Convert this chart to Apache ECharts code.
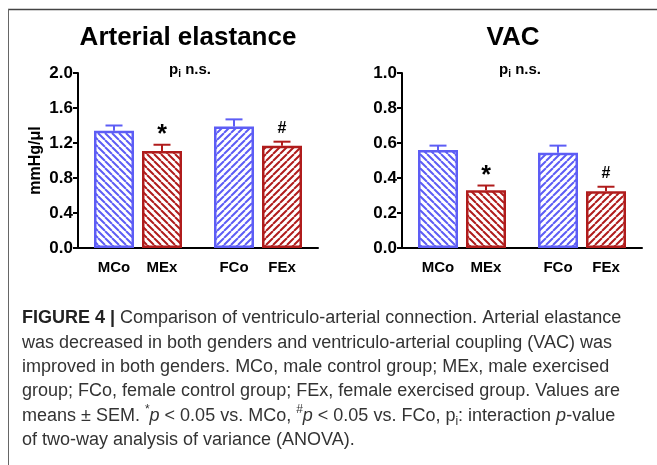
<!DOCTYPE html>
<html><head><meta charset="utf-8">
<script src="https://cdn.jsdelivr.net/npm/echarts@6/dist/echarts.min.js"></script>
<style>html,body{margin:0;padding:0;background:#fff}#c{width:657px;height:465px}</style>
</head><body><div id="c"></div>
<script>
// ---- data ----
const groups = ['MCo', 'MEx', 'FCo', 'FEx'];
const eaMean = [1.34, 1.11, 1.39, 1.17];
const eaSem = [0.06, 0.07, 0.08, 0.045];
const vacMean = [0.56, 0.33, 0.545, 0.325];
const vacSem = [0.025, 0.027, 0.04, 0.025];
const marks = ['', '*', '', '#'];
const eaTicks = ['0.0', '0.4', '0.8', '1.2', '1.6', '2.0'];
const vacTicks = ['0.0', '0.2', '0.4', '0.6', '0.8', '1.0'];
const titles = ['Arterial elastance', 'VAC'];
const yName = 'mmHg/\u03bcl';

// ---- layout / style ----
const BLUE = '#5d5df5', RED = '#b01c1c';
const FONT = 'Liberation Sans, Arial, sans-serif';
const slotOf = [1, 3, 6, 8];
const NSLOT = 10;
const colorOf = i => (i % 2 === 0 ? BLUE : RED);
const dirOf = i => (i < 2 ? 'back' : 'fwd');

function hatch(color, dir) {
  const s = 7, c = document.createElement('canvas');
  c.width = s; c.height = s;
  const g = c.getContext('2d');
  g.fillStyle = '#fff'; g.fillRect(0, 0, s, s);
  g.strokeStyle = color; g.lineWidth = 2; g.beginPath();
  for (let k = -1; k <= 1; k++) {
    if (dir === 'back') { g.moveTo(k * s, 0); g.lineTo(k * s + s, s); }
    else { g.moveTo(k * s, s); g.lineTo(k * s + s, 0); }
  }
  g.stroke();
  return { image: c, repeat: 'repeat' };
}

const slotLabels = Array.from({ length: NSLOT }, () => '');
groups.forEach((g, i) => { slotLabels[slotOf[i]] = g; });

function barData(mean) {
  const d = Array.from({ length: NSLOT }, () => null);
  mean.forEach((v, i) => {
    d[slotOf[i]] = {
      value: v,
      itemStyle: { color: hatch(colorOf(i), dirOf(i)), borderColor: colorOf(i), borderWidth: 2.5 }
    };
  });
  return d;
}

function errSeries(idx, mean, sem) {
  return {
    type: 'custom', xAxisIndex: idx, yAxisIndex: idx, z: 5,
    data: mean.map((m, i) => [slotOf[i], m, sem[i], i]),
    renderItem(params, api) {
      const i = api.value(3);
      const col = colorOf(i);
      const base = api.coord([api.value(0), api.value(1)]);
      const top = api.coord([api.value(0), api.value(1) + api.value(2)]);
      const children = [
        { type: 'line', shape: { x1: base[0], y1: base[1], x2: top[0], y2: top[1] }, style: { stroke: col, lineWidth: 2 } },
        { type: 'line', shape: { x1: top[0] - 8.5, y1: top[1], x2: top[0] + 8.5, y2: top[1] }, style: { stroke: col, lineWidth: 2 } }
      ];
      const m = marks[i];
      if (m) {
        const star = m === '*';
        children.push({
          type: 'text',
          style: {
            text: m, x: top[0], y: top[1] + (star ? 3 : -5),
            align: 'center', verticalAlign: 'bottom',
            font: 'bold ' + (star ? 25 : 16) + 'px ' + FONT, fill: '#000'
          }
        });
      }
      return { type: 'group', children };
    }
  };
}

function xAx(idx) {
  return {
    type: 'category', gridIndex: idx, data: slotLabels,
    axisLine: { lineStyle: { color: '#000', width: 2 } },
    axisTick: { show: false },
    axisLabel: { interval: 0, color: '#000', fontWeight: 'bold', fontSize: 15, fontFamily: FONT, margin: 12 }
  };
}
function yAx(idx, ticks, name) {
  const max = parseFloat(ticks[ticks.length - 1]);
  const step = parseFloat(ticks[1]) - parseFloat(ticks[0]);
  return {
    type: 'value', gridIndex: idx, min: 0, max: max, interval: step,
    name: name || '', nameLocation: 'middle', nameGap: 34, nameRotate: 90,
    nameTextStyle: { color: '#000', fontWeight: 'bold', fontSize: 16, fontFamily: FONT },
    axisLine: { show: true, lineStyle: { color: '#000', width: 2 } },
    axisTick: { show: true, length: 5, lineStyle: { color: '#000', width: 2 } },
    splitLine: { show: false },
    axisLabel: {
      color: '#000', fontWeight: 'bold', fontSize: 17, fontFamily: FONT, margin: 5,
      formatter: v => ticks.find(t => Math.abs(parseFloat(t) - v) < 1e-6) || ''
    }
  };
}

const capRich = {
  b: { fontWeight: 'bold', fontSize: 18, fontFamily: FONT, fill: '#222', lineHeight: 24.4 },
  i: { fontStyle: 'italic', fontSize: 18, fontFamily: FONT, fill: '#333', lineHeight: 24.4 },
  sup: { fontSize: 12, fontFamily: FONT, fill: '#333', lineHeight: 14, verticalAlign: 'top' },
  sub: { fontSize: 12, fontFamily: FONT, fill: '#333', lineHeight: 12, verticalAlign: 'bottom' }
};
const caption = [
  '{b|FIGURE 4 |} Comparison of ventriculo-arterial connection. Arterial elastance',
  'was decreased in both genders and ventriculo-arterial coupling (VAC) was',
  'improved in both genders. MCo, male control group; MEx, male exercised',
  'group; FCo, female control group; FEx, female exercised group. Values are',
  'means \u00b1 SEM. {sup|*}{i|p} < 0.05 vs. MCo, {sup|#}{i|p} < 0.05 vs. FCo, p{sub|i}: interaction {i|p}-value',
  'of two-way analysis of variance (ANOVA).'
].join('\n');

const piRich = {
  p: { fontWeight: 'bold', fontSize: 15, fontFamily: FONT, fill: '#000', lineHeight: 18 },
  s: { fontWeight: 'bold', fontSize: 10, fontFamily: FONT, fill: '#000', lineHeight: 10, verticalAlign: 'bottom' }
};

const chart = echarts.init(document.getElementById('c'), null, { renderer: 'canvas' });
chart.setOption({
  animation: false,
  backgroundColor: '#fff',
  grid: [
    { left: 78, top: 73, width: 240, height: 175 },
    { left: 402, top: 73, width: 240, height: 175 }
  ],
  xAxis: [xAx(0), xAx(1)],
  yAxis: [yAx(0, eaTicks, yName), yAx(1, vacTicks)],
  series: [
    { type: 'bar', xAxisIndex: 0, yAxisIndex: 0, barWidth: 40, data: barData(eaMean) },
    { type: 'bar', xAxisIndex: 1, yAxisIndex: 1, barWidth: 40, data: barData(vacMean) },
    errSeries(0, eaMean, eaSem),
    errSeries(1, vacMean, vacSem)
  ],
  graphic: [
    { type: 'line', shape: { x1: 8, y1: 9.5, x2: 657, y2: 9.5 }, style: { stroke: '#444', lineWidth: 1.5 } },
    { type: 'line', shape: { x1: 8.5, y1: 9, x2: 8.5, y2: 465 }, style: { stroke: '#666', lineWidth: 1 } },
    { type: 'text', style: { text: titles[0], x: 188, y: 38, align: 'center', verticalAlign: 'middle', font: 'bold 26px ' + FONT, fill: '#000' } },
    { type: 'text', style: { text: titles[1], x: 513, y: 38, align: 'center', verticalAlign: 'middle', font: 'bold 26px ' + FONT, fill: '#000' } },
    { type: 'text', style: { text: '{p|p}{s|i}{p| n.s.}', rich: piRich, x: 190, y: 70, align: 'center', verticalAlign: 'middle' } },
    { type: 'text', style: { text: '{p|p}{s|i}{p| n.s.}', rich: piRich, x: 520, y: 70, align: 'center', verticalAlign: 'middle' } },
    { type: 'text', style: { text: caption, rich: capRich, x: 22, y: 306, fontSize: 18, fontFamily: FONT, fill: '#333', lineHeight: 24.4, align: 'left', verticalAlign: 'top' } }
  ]
});
</script></body></html>
